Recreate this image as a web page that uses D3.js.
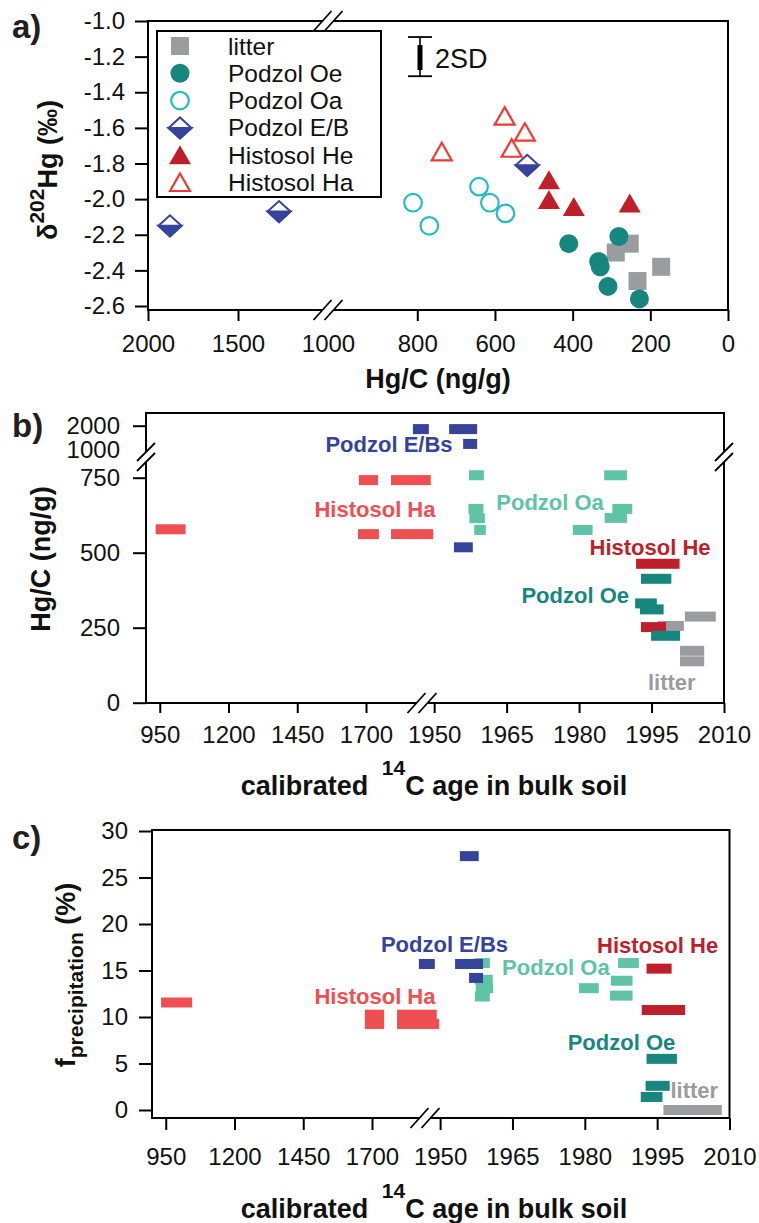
<!DOCTYPE html>
<html>
<head>
<meta charset="utf-8">
<script src="https://cdn.jsdelivr.net/npm/d3@7"></script>
<style>
body { margin: 0; background: #fff; }
svg { display: block; font-family: "Liberation Sans", Arial, sans-serif; }
</style>
</head>
<body>
<svg id="chart" width="759" height="1223"></svg>
<script>
// ---- panel a: Hg/C (ng/g) vs d202Hg (permil)
var litterHgC = [289, 253, 233, 172];
var litterD202 = [-2.30, -2.25, -2.46, -2.38];
var oeHgC = [410, 333, 329, 309, 281, 228];
var oeD202 = [-2.25, -2.35, -2.38, -2.49, -2.21, -2.56];
var oaHgC = [811, 769, 641, 613, 573];
var oaD202 = [-2.02, -2.15, -1.93, -2.02, -2.08];
var ebHgC = [1878, 1272, 517];
var ebD202 = [-2.15, -2.07, -1.81];
var heHgC = [461, 461, 397, 253];
var heD202 = [-1.90, -2.01, -2.05, -2.03];
var haHgC = [575, 523, 557, 737];
var haD202 = [-1.54, -1.63, -1.72, -1.74];
var legendNames = ['litter', 'Podzol Oe', 'Podzol Oa', 'Podzol E/B', 'Histosol He', 'Histosol Ha'];
var aXTicks = [2000, 1500, 1000, 800, 600, 400, 200, 0];
var aYTicks = [-1.0, -1.2, -1.4, -1.6, -1.8, -2.0, -2.2, -2.4, -2.6];

// ---- panel b: calibrated age range [from, to] vs Hg/C
var bEB = [[1945.6, 1948.9, 1860], [1953.1, 1958.9, 1860], [1956.0, 1958.9, 1250], [1954.1, 1958.0, 518]];
var bHa = [[935, 1044, 578], [1674, 1744, 742], [1791, 1949.3, 742], [1671, 1747, 562], [1791, 1949.8, 562]];
var bOa = [[1957.2, 1960.3, 772], [1957.1, 1960.2, 646], [1957.3, 1960.5, 615], [1958.3, 1960.7, 576],
           [1978.7, 1982.8, 576], [1985.2, 1989.9, 772], [1986.9, 1991.0, 646], [1985.3, 1989.9, 616]];
var bLitter = [[2001.9, 2008.3, 287], [1996.3, 2001.7, 256], [2000.9, 2005.9, 173], [2000.9, 2005.9, 138]];
var bHe = [[1991.8, 2000.8, 463], [1992.8, 1998.0, 252]];
var bOe = [[1992.8, 1999.1, 413], [1991.6, 1996.1, 331], [1992.6, 1997.5, 311], [1994.9, 2000.9, 223]];
var bYTicks = [0, 250, 500, 750, 1000, 2000];

// ---- panel c: calibrated age range [from, to] vs f_precipitation (%)
var cEB = [[1954.1, 1958.0, 27.3], [1945.6, 1948.9, 15.7], [1953.1, 1958.9, 15.7], [1956.0, 1958.9, 14.2]];
var cHa = [[933, 1046, 11.56], [1674, 1744, 10.25], [1791, 1949.3, 10.25], [1674, 1744, 9.25], [1791, 1949.8, 9.25]];
var cOa = [[1957.1, 1960.3, 15.8], [1957.2, 1960.9, 14.0], [1957.4, 1961.0, 13.1], [1957.2, 1960.3, 12.2],
           [1978.8, 1982.9, 13.1], [1986.9, 1991.2, 15.8], [1985.4, 1989.9, 13.9], [1985.2, 1989.9, 12.3]];
var cLitter = [[1996.3, 2008.4, 0.0]];
var cHe = [[1992.8, 1998.0, 15.2], [1991.8, 2000.8, 10.75]];
var cOe = [[1992.8, 1999.1, 5.5], [1992.6, 1997.6, 2.6], [1991.6, 1996.1, 1.4]];
var cYTicks = [0, 5, 10, 15, 20, 25, 30];

var ageTicks = [950, 1200, 1450, 1700, 1950, 1965, 1980, 1995, 2010];

var col = {
  litter: '#9b9ca0', oe: '#17867f', oaRing: '#27bcbf', oa: '#5ec4a5',
  eb: '#36439b', he: '#bf1f2a', haTri: '#ee3a36', ha: '#ef4f52'
};

var svg = d3.select('#chart');

function styleAxis(g, size) {
  g.select('.domain').remove();
  g.selectAll('.tick line').attr('stroke', '#000').attr('stroke-width', 2);
  g.selectAll('.tick text').attr('font-size', size).attr('fill', '#111')
    .attr('font-family', '"Liberation Sans", Arial, sans-serif');
}

function frame(x0, y0, x1, y1) {
  svg.append('rect').attr('x', x0).attr('y', y0).attr('width', x1 - x0).attr('height', y1 - y0)
    .attr('fill', 'none').attr('stroke', '#000').attr('stroke-width', 2);
}

// two slanted strokes over a horizontal axis line
function breakH(cx, cy) {
  var g = svg.append('g');
  g.append('path').attr('d', 'M' + (cx - 14.5) + ',' + (cy + 10) + 'L' + (cx + 3.5) + ',' + (cy - 10) +
      'L' + (cx + 14.5) + ',' + (cy - 10) + 'L' + (cx - 3.5) + ',' + (cy + 10) + 'Z').attr('fill', '#fff');
  [-5.5, 5.5].forEach(function (s) {
    g.append('line').attr('x1', cx + s - 9).attr('y1', cy + 10).attr('x2', cx + s + 9).attr('y2', cy - 10)
      .attr('stroke', '#000').attr('stroke-width', 1.8);
  });
}
// two slanted strokes over a vertical axis line
function breakV(cx, cy) {
  var g = svg.append('g');
  g.append('path').attr('d', 'M' + (cx - 9) + ',' + (cy + 4) + 'L' + (cx + 9) + ',' + (cy - 14) +
      'L' + (cx + 9) + ',' + (cy - 4) + 'L' + (cx - 9) + ',' + (cy + 14) + 'Z').attr('fill', '#fff');
  [-5, 5].forEach(function (s) {
    g.append('line').attr('x1', cx - 9).attr('y1', cy + s + 9).attr('x2', cx + 9).attr('y2', cy + s - 9)
      .attr('stroke', '#000').attr('stroke-width', 1.8);
  });
}

function drawMarker(g, type, cx, cy) {
  if (type === 'square') {
    g.append('rect').attr('x', cx - 9).attr('y', cy - 9).attr('width', 18).attr('height', 18).attr('fill', col.litter);
  } else if (type === 'dot') {
    g.append('circle').attr('cx', cx).attr('cy', cy).attr('r', 9.5).attr('fill', col.oe);
  } else if (type === 'ring') {
    g.append('circle').attr('cx', cx).attr('cy', cy).attr('r', 8.8).attr('fill', 'none')
      .attr('stroke', col.oaRing).attr('stroke-width', 2.2);
  } else if (type === 'diamond') {
    g.append('path').attr('d', 'M' + (cx - 11.5) + ',' + cy + 'L' + cx + ',' + (cy - 10.5) + 'L' + (cx + 11.5) + ',' + cy +
        'L' + cx + ',' + (cy + 10.5) + 'Z').attr('fill', '#fff').attr('stroke', col.eb).attr('stroke-width', 2);
    g.append('path').attr('d', 'M' + (cx - 11.5) + ',' + cy + 'L' + (cx + 11.5) + ',' + cy + 'L' + cx + ',' + (cy + 10.5) + 'Z')
      .attr('fill', col.eb).attr('stroke', col.eb).attr('stroke-width', 2);
  } else if (type === 'tri') {
    g.append('path').attr('d', 'M' + cx + ',' + (cy - 11) + 'L' + (cx + 11) + ',' + (cy + 8) + 'L' + (cx - 11) + ',' + (cy + 8) + 'Z')
      .attr('fill', col.he);
  } else if (type === 'otri') {
    g.append('path').attr('d', 'M' + cx + ',' + (cy - 10) + 'L' + (cx + 10) + ',' + (cy + 7.5) + 'L' + (cx - 10) + ',' + (cy + 7.5) + 'Z')
      .attr('fill', 'none').attr('stroke', col.haTri).attr('stroke-width', 2.2);
  }
}

function panelLetter(txt, x, y) {
  svg.append('text').attr('x', x).attr('y', y).attr('font-size', 33).attr('font-weight', 'bold')
    .attr('fill', '#231f20').text(txt);
}

// ================= panel a =================
var xA = d3.scaleLinear().domain([2000, 1000, 999, 0]).range([148, 328, 340, 728]);
var yA = d3.scaleLinear().domain([-2.6, -1.0]).range([306, 21]);

frame(148, 21, 728, 310);
var axA = svg.append('g').attr('transform', 'translate(0,310)')
  .call(d3.axisBottom(xA).tickValues(aXTicks).tickFormat(d3.format('d')).tickSize(11).tickPadding(14));
styleAxis(axA, 24);
axA.selectAll('.tick').filter(function (d) { return d === 1000; }).select('line').remove();
var ayA = svg.append('g').attr('transform', 'translate(148,0)')
  .call(d3.axisLeft(yA).tickValues(aYTicks).tickSize(13).tickPadding(10));
styleAxis(ayA, 24);
ayA.selectAll('.tick text').text(function (d) { return d3.format('.1f')(d).replace('−', '-'); });
breakH(328, 21);
breakH(328, 310);

var ptsA = svg.append('g');
var seriesA = [
  ['square', litterHgC, litterD202], ['dot', oeHgC, oeD202], ['ring', oaHgC, oaD202],
  ['diamond', ebHgC, ebD202], ['tri', heHgC, heD202], ['otri', haHgC, haD202]
];
seriesA.forEach(function (s) {
  s[1].forEach(function (v, i) { drawMarker(ptsA, s[0], xA(v), yA(s[2][i])); });
});

// 2SD error bar
var sd = svg.append('g');
var sdX = xA(793);
sd.append('line').attr('x1', sdX).attr('x2', sdX).attr('y1', yA(-1.09)).attr('y2', yA(-1.31))
  .attr('stroke', '#000').attr('stroke-width', 1.6);
sd.append('rect').attr('x', sdX - 2.5).attr('y', yA(-1.135)).attr('width', 5).attr('height', yA(-1.275) - yA(-1.135)).attr('fill', '#000');
[-1.09, -1.31].forEach(function (v) {
  sd.append('line').attr('x1', sdX - 12).attr('x2', sdX + 12).attr('y1', yA(v)).attr('y2', yA(v))
    .attr('stroke', '#000').attr('stroke-width', 1.8);
});
sd.append('text').attr('x', sdX + 15).attr('y', 68).attr('font-size', 27).attr('fill', '#111').text('2SD');

// legend
var lg = svg.append('g');
lg.append('rect').attr('x', 157).attr('y', 31).attr('width', 224).attr('height', 166)
  .attr('fill', '#fff').attr('stroke', '#000').attr('stroke-width', 2);
var legendTypes = ['square', 'dot', 'ring', 'diamond', 'tri', 'otri'];
legendNames.forEach(function (n, i) {
  var cy = 46 + i * 27.3;
  drawMarker(lg, legendTypes[i], 180, cy + (legendTypes[i] === 'tri' || legendTypes[i] === 'otri' ? 1 : 0));
  lg.append('text').attr('x', 228).attr('y', cy + 8.5).attr('font-size', 24.5).attr('fill', '#111').text(n);
});

svg.append('text').attr('x', 438).attr('y', 388).attr('text-anchor', 'middle').attr('font-size', 27)
  .attr('font-weight', 'bold').attr('fill', '#111').text('Hg/C (ng/g)');
var ytA = svg.append('text').attr('transform', 'translate(57,170) rotate(-90)').attr('text-anchor', 'middle')
  .attr('font-size', 27).attr('font-weight', 'bold').attr('fill', '#111');
ytA.append('tspan').text('δ');
ytA.append('tspan').attr('font-size', 21).attr('dy', -13).text('202');
ytA.append('tspan').attr('dy', 13).text('Hg');
ytA.append('tspan').text(' (‰)');
panelLetter('a)', 12, 38);

// ================= panel b =================
var xB = d3.scaleLinear().domain([900, 1860, 1945, 2010]).range([146, 410, 410, 724]);
var yB = d3.scaleLinear().domain([0, 750, 1000, 2000]).range([702.7, 477.7, 450, 425.7]);

frame(146, 413, 724, 703);
var axB = svg.append('g').attr('transform', 'translate(0,703)')
  .call(d3.axisBottom(xB).tickValues(ageTicks).tickFormat(d3.format('d')).tickSize(10).tickPadding(13));
styleAxis(axB, 24);
var ayB = svg.append('g').attr('transform', 'translate(146,0)')
  .call(d3.axisLeft(yB).tickValues(bYTicks).tickFormat(d3.format('d')).tickSize(13).tickPadding(13));
styleAxis(ayB, 24);
ayB.selectAll('.tick').filter(function (d) { return d === 1000; }).select('line').remove();
breakV(146, 457);
breakV(724, 457);
breakH(422, 703);

function drawBars(g, data, x, y, color) {
  g.selectAll(null).data(data).enter().append('rect')
    .attr('x', function (d) { return x(d[0]); })
    .attr('width', function (d) { return x(d[1]) - x(d[0]); })
    .attr('y', function (d) { return y(d[2]) - 5; })
    .attr('height', 10)
    .attr('fill', color);
}

var barsB = svg.append('g');
drawBars(barsB, bHa, xB, yB, col.ha);
drawBars(barsB, bOa, xB, yB, col.oa);
drawBars(barsB, bEB, xB, yB, col.eb);
drawBars(barsB, bLitter, xB, yB, col.litter);
drawBars(barsB, bHe, xB, yB, col.he);
drawBars(barsB, bOe, xB, yB, col.oe);

function label(txt, x, y, color) {
  svg.append('text').attr('x', x).attr('y', y).attr('text-anchor', 'middle').attr('font-size', 22)
    .attr('font-weight', 'bold').attr('fill', color).text(txt);
}
label('Podzol E/Bs', xB(1783.6), yB(982), col.eb);
label('Histosol Ha', xB(1732.7), yB(619), col.ha);
label('Podzol Oa', xB(1974), yB(642), col.oa);
label('Histosol He', xB(1994.7), yB(492), col.he);
label('Podzol Oe', xB(1979.2), yB(332), col.oe);
label('litter', xB(1999.2), yB(42), col.litter);

function ageTitle(y) {
  var t = svg.append('text').attr('x', 434).attr('y', y).attr('text-anchor', 'middle').attr('font-size', 27)
    .attr('font-weight', 'bold').attr('fill', '#111');
  t.append('tspan').text('calibrated ');
  t.append('tspan').attr('font-size', 21).attr('dy', -20).attr('dx', 6).text('14');
  t.append('tspan').attr('dy', 20).text('C age in bulk soil');
}
ageTitle(795);
svg.append('text').attr('transform', 'translate(50,559) rotate(-90)').attr('text-anchor', 'middle')
  .attr('font-size', 27).attr('font-weight', 'bold').attr('fill', '#111').text('Hg/C (ng/g)');
panelLetter('b)', 12, 437);

// ================= panel c =================
var xC = d3.scaleLinear().domain([900, 1860, 1945, 2010]).range([152, 416, 416, 729.5]);
var yC = d3.scaleLinear().domain([0, 30]).range([1110, 831]);

frame(152, 830, 729.5, 1118);
var axC = svg.append('g').attr('transform', 'translate(0,1118)')
  .call(d3.axisBottom(xC).tickValues(ageTicks).tickFormat(d3.format('d')).tickSize(12).tickPadding(18));
styleAxis(axC, 24);
var ayC = svg.append('g').attr('transform', 'translate(152,0)')
  .call(d3.axisLeft(yC).tickValues(cYTicks).tickFormat(d3.format('d')).tickSize(13).tickPadding(11));
styleAxis(ayC, 24);
breakH(425, 1118);

var barsC = svg.append('g');
drawBars(barsC, cHa, xC, yC, col.ha);
drawBars(barsC, cOa, xC, yC, col.oa);
drawBars(barsC, cEB, xC, yC, col.eb);
drawBars(barsC, cLitter, xC, yC, col.litter);
drawBars(barsC, cHe, xC, yC, col.he);
drawBars(barsC, cOe, xC, yC, col.oe);

label('Podzol E/Bs', xC(1950.9), yC(17.0), col.eb);
label('Histosol Ha', xC(1710.9), yC(11.4), col.ha);
label('Podzol Oa', xC(1974.0), yC(14.5), col.oa);
label('Histosol He', xC(1995.1), yC(16.9), col.he);
label('Podzol Oe', xC(1987.6), yC(6.45), col.oe);
label('litter', xC(2002.7), yC(1.29), col.litter);

ageTitle(1218);
var ytC = svg.append('text').attr('transform', 'translate(75,975) rotate(-90)').attr('text-anchor', 'middle')
  .attr('font-size', 27).attr('font-weight', 'bold').attr('fill', '#111');
ytC.append('tspan').text('f');
ytC.append('tspan').attr('font-size', 21).attr('dy', 8).text('precipitation');
ytC.append('tspan').attr('dy', -8).text(' (%)');
panelLetter('c)', 12, 849);
</script>
</body>
</html>
